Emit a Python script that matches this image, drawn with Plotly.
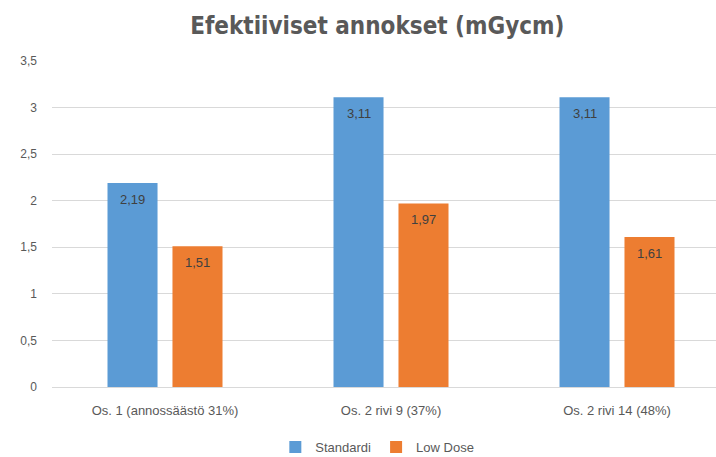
import plotly.graph_objects as go

# Effective doses per study setting
categories = ["Os. 1 (annossäästö 31%)", "Os. 2 rivi 9 (37%)", "Os. 2 rivi 14 (48%)"]
standardi = [2.19, 3.11, 3.11]
low_dose = [1.51, 1.97, 1.61]
y_ticks = [0, 0.5, 1, 1.5, 2, 2.5, 3, 3.5]

BLUE = "#5B9BD5"
ORANGE = "#ED7D31"
GRAY = "#595959"
FONT = "Liberation Sans"

series = [("Standardi", standardi, BLUE, -32.5), ("Low Dose", low_dose, ORANGE, 32.5)]

fig = go.Figure()
for name, vals, color, _ in series:
    fig.add_trace(go.Bar(
        name=name,
        x=categories,
        y=vals,
        marker=dict(color=color, line=dict(width=0)),
    ))

# value labels just inside the top of each bar
for name, vals, color, dx in series:
    for cat, v in zip(categories, vals):
        fig.add_annotation(
            x=cat, y=v, xref="x", yref="y",
            text=f"{v:.2f}".replace(".", ","),
            showarrow=False,
            xshift=dx, yshift=-16,
            yanchor="middle",
            font=dict(family=FONT, size=13, color="#404040"),
        )

fig.update_layout(
    width=716,
    height=457,
    separators=", ",
    barmode="group",
    bargap=0.425,
    bargroupgap=0.23,
    plot_bgcolor="white",
    paper_bgcolor="white",
    margin=dict(l=52, r=0, t=61, b=70),
    title=dict(
        text="Efektiiviset annokset (mGycm)",
        x=0.527, xref="container", xanchor="center",
        y=0.945, yref="container", yanchor="middle",
        font=dict(family="DejaVu Sans Condensed, Liberation Sans, sans-serif",
                  size=24, color=GRAY, weight="bold"),
    ),
    legend=dict(
        orientation="h",
        xref="container", x=0.527, xanchor="center",
        yref="container", y=0.022, yanchor="middle",
        font=dict(family=FONT, size=13, color=GRAY),
        itemwidth=30,
        traceorder="normal",
    ),
    showlegend=True,
)

fig.update_xaxes(
    type="category",
    range=[-0.5, 2.438],
    showgrid=False,
    showline=False,
    ticks="",
    ticklabelstandoff=14,
    tickfont=dict(family=FONT, size=13, color=GRAY),
)
fig.update_yaxes(
    range=[0, 3.5],
    tickvals=y_ticks,
    tickformat="~g",
    showgrid=True,
    gridcolor="#D9D9D9",
    gridwidth=1,
    zeroline=True,
    zerolinecolor="#D9D9D9",
    zerolinewidth=1,
    showline=False,
    ticks="",
    ticklabelstandoff=14,
    tickfont=dict(family=FONT, size=12, color=GRAY),
)

fig.write_html("out.html")
